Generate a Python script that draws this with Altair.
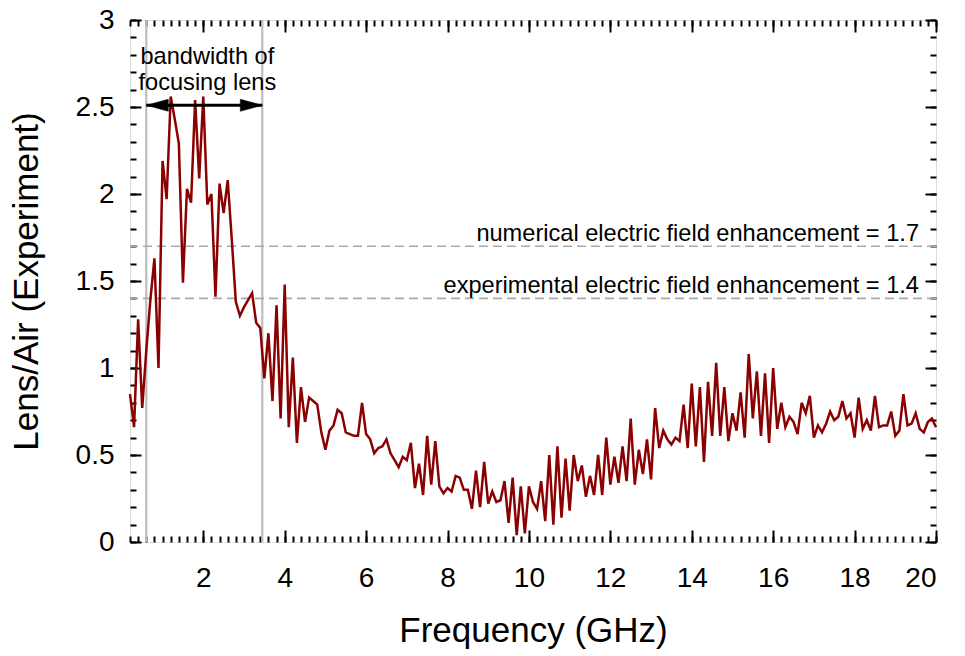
import altair as alt
import numpy as np
import pandas as pd

# sampling grid (GHz), 0.1 GHz steps from 0.2 to 20.0
freq = np.round(np.arange(0.2, 20.01, 0.1), 1)

ratio = [
    0.85, 0.66, 1.28, 0.77, 1.10, 1.39, 1.63, 1.00,
    2.19, 1.97, 2.56, 2.43, 2.29, 1.49, 2.03, 1.95, 2.54, 2.09,
    2.56, 1.94, 2.00, 1.41, 2.06, 1.89, 2.08, 1.74, 1.38, 1.30,
    1.35, 1.39, 1.43, 1.26, 1.23, 0.94, 1.20, 0.81, 1.36, 0.71,
    1.48, 0.66, 1.06, 0.57, 0.89, 0.69, 0.83, 0.81, 0.79, 0.63,
    0.53, 0.64, 0.67, 0.76, 0.74, 0.63, 0.62, 0.61, 0.61, 0.80,
    0.62, 0.59, 0.51, 0.54, 0.55, 0.59, 0.51, 0.47, 0.43, 0.49,
    0.47, 0.57, 0.31, 0.45, 0.27, 0.61, 0.33, 0.58, 0.32, 0.28,
    0.31, 0.29, 0.38, 0.37, 0.30, 0.30, 0.19, 0.41, 0.20, 0.46,
    0.22, 0.29, 0.23, 0.24, 0.35, 0.11, 0.37, 0.04, 0.32, 0.05,
    0.32, 0.23, 0.19, 0.35, 0.12, 0.50, 0.10, 0.55, 0.14, 0.48,
    0.18, 0.50, 0.35, 0.44, 0.26, 0.38, 0.27, 0.50, 0.27, 0.60,
    0.33, 0.49, 0.34, 0.55, 0.35, 0.71, 0.33, 0.53, 0.39, 0.59,
    0.36, 0.77, 0.54, 0.64, 0.59, 0.56, 0.60, 0.58, 0.79, 0.54,
    0.91, 0.55, 0.89, 0.46, 0.92, 0.61, 1.03, 0.61, 0.89, 0.58,
    0.74, 0.64, 0.86, 0.60, 1.08, 0.71, 0.98, 0.61, 0.97, 0.57,
    1.00, 0.65, 0.80, 0.66, 0.72, 0.69, 0.62, 0.80, 0.74, 0.84,
    0.60, 0.67, 0.63, 0.68, 0.75, 0.70, 0.72, 0.81, 0.71, 0.74,
    0.60, 0.83, 0.65, 0.70, 0.64, 0.84, 0.66, 0.67, 0.67, 0.75,
    0.61, 0.64, 0.85, 0.67, 0.68, 0.74, 0.65, 0.63, 0.69, 0.71,
    0.66,
]

band_edges = [0.6, 3.45]          # bandwidth of focusing lens (GHz)
arrow_level = [2.51]
band_text = ["bandwidth of", "focusing lens"]
band_text_y = [2.748, 2.595]
band_text_x = [2.1, 2.1]

enh_values = [1.7, 1.4]
enh_labels = ["numerical electric field enhancement = 1.7",
              "experimental electric field enhancement = 1.4"]

x_major = [2, 4, 6, 8, 10, 12, 14, 16, 18, 20]
x_minor = [round(0.2 * i, 1) for i in range(1, 101)]
y_major = [0, 0.5, 1, 1.5, 2, 2.5, 3]
y_minor = [round(0.1 * i, 1) for i in range(0, 31)]

FONT = "Liberation Sans"
X_DOM = [0.2, 20]
Y_DOM = [0, 3]

df = pd.DataFrame({"f": freq, "r": ratio})
xs = alt.Scale(domain=X_DOM, nice=False, zero=False)
ys = alt.Scale(domain=Y_DOM, nice=False, zero=False)


def tick_axis(orient, values, size):
    return alt.Axis(orient=orient, values=values, labels=False, domain=False,
                    grid=False, ticks=True, tickSize=size, offset=-size,
                    tickColor="black", tickWidth=2, title=None)


def X(field):
    return alt.X(field, scale=xs, axis=None)


def Y(field):
    return alt.Y(field, scale=ys, axis=None)


main = alt.Chart(df).mark_line(color="#8b0000", strokeWidth=2.5).encode(
    x=alt.X("f:Q", scale=xs, axis=alt.Axis(
        orient="bottom", values=x_major, ticks=False, domain=False, grid=False,
        labelFontSize=28, labelFont=FONT, labelColor="black", labelPadding=22,
        title="Frequency (GHz)", titleFont=FONT, titleFontSize=35,
        titleFontWeight="normal", titleColor="black", titlePadding=21)),
    y=alt.Y("r:Q", scale=ys, axis=alt.Axis(
        orient="left", values=y_major, format="~g", ticks=False, domain=False,
        grid=False, labelFontSize=28, labelFont=FONT, labelColor="black",
        labelPadding=16, title="Lens/Air (Experiment)", titleFont=FONT,
        titleFontSize=35, titleFontWeight="normal", titleColor="black",
        titlePadding=31)),
)

tick_layers = []
for xo, yo in [("bottom", "left"), ("top", "right")]:
    for xv, yv, xsz, ysz in [(x_major, y_major, 12, 11), (x_minor, y_minor, 6, 6)]:
        tick_layers.append(
            alt.Chart(df).mark_line(opacity=0).encode(
                x=alt.X("f:Q", scale=xs, axis=tick_axis(xo, xv, xsz)),
                y=alt.Y("r:Q", scale=ys, axis=tick_axis(yo, yv, ysz)),
            )
        )

vlines = alt.Chart(pd.DataFrame({"f": band_edges})).mark_rule(
    color="#bdbdbd", strokeWidth=2.2).encode(x=X("f:Q"))

hlines = alt.Chart(pd.DataFrame({"v": enh_values})).mark_rule(
    color="#aaaaaa", strokeWidth=1.6, strokeDash=[9, 5]).encode(y=Y("v:Q"))

hlabels = alt.Chart(pd.DataFrame({"v": enh_values, "t": enh_labels, "x": [20, 20]})).mark_text(
    align="right", baseline="alphabetic", dx=-17, dy=-5, font=FONT, fontSize=23.6,
    color="black").encode(x=X("x:Q"), y=Y("v:Q"), text="t:N")

arrow_df = pd.DataFrame({"a": [band_edges[0]], "b": [band_edges[1]], "y": arrow_level})
arrow_line = alt.Chart(arrow_df).mark_rule(color="black", strokeWidth=3).encode(
    x=X("a:Q"), x2="b:Q", y=Y("y:Q"))
head_l = alt.Chart(arrow_df).mark_point(
    shape="M0,0L2,-0.55L2,0.55Z", filled=True, fill="black", stroke="black",
    strokeWidth=0.5, opacity=1, size=484).encode(x=X("a:Q"), y=Y("y:Q"))
head_r = alt.Chart(arrow_df).mark_point(
    shape="M0,0L-2,-0.55L-2,0.55Z", filled=True, fill="black", stroke="black",
    strokeWidth=0.5, opacity=1, size=484).encode(x=X("b:Q"), y=Y("y:Q"))

btext = alt.Chart(pd.DataFrame({"x": band_text_x, "y": band_text_y, "t": band_text})).mark_text(
    align="center", baseline="alphabetic", font=FONT, fontSize=23.6, color="black").encode(
    x=X("x:Q"), y=Y("y:Q"), text="t:N")

chart = alt.layer(
    vlines, hlines, hlabels, main, arrow_line, head_l, head_r, btext, *tick_layers
).resolve_axis(x="independent", y="independent").properties(
    width=806, height=522,
    autosize=alt.AutoSizeParams(type="none"),
    padding={"left": 130, "top": 20, "right": 29, "bottom": 114},
).configure_view(stroke="black", strokeWidth=2).configure(background="white")

chart.save("out.html", embed_options={"renderer": "svg", "actions": False})
